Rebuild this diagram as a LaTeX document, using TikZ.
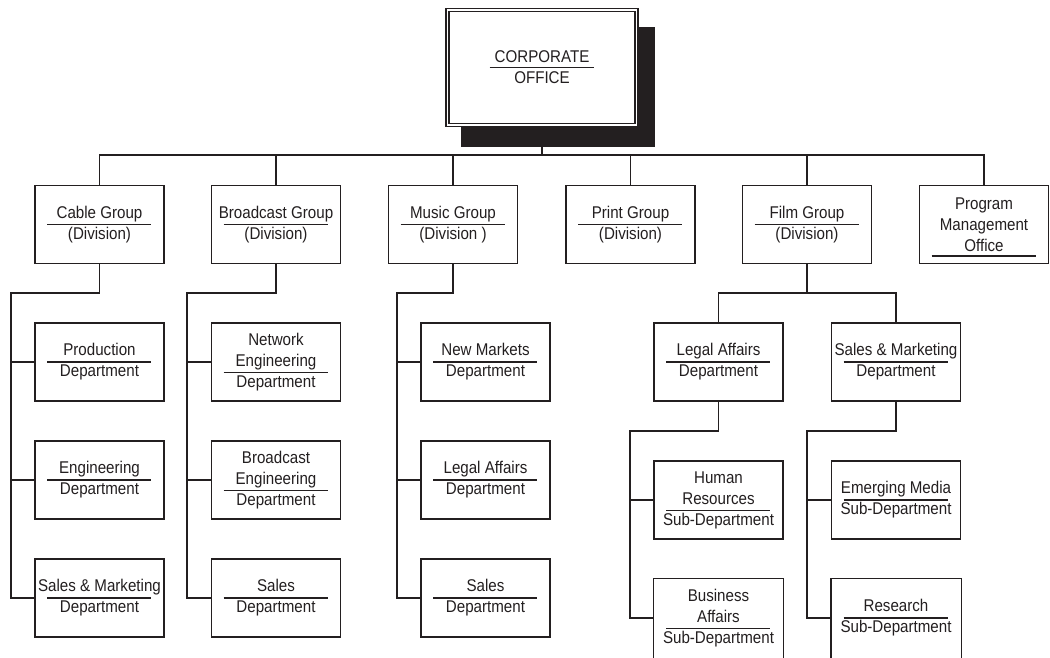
\documentclass[tikz,border=0pt]{standalone}
\usepackage{fontspec}
\setmainfont{Liberation Sans}[FakeStretch=0.89]
\definecolor{ink}{HTML}{231F20}
\begin{document}
\begin{tikzpicture}[x=1pt,y=-1pt,
  box/.style={draw=ink,line width=1.4pt,minimum width=129pt,minimum height=78pt,inner sep=0pt,align=center,
     font=\fontsize{17}{21}\selectfont,text=ink,fill=white},
  openbox/.style={box,draw=none},
  conn/.style={draw=ink,line width=1.4pt},
  rul/.style={draw=ink,line width=1.2pt}]
\clip (0,0) rectangle (1050,657);
\fill[white] (0,0) rectangle (1050,657);
\newcommand{\orgrule}[2]{\draw[rul] ([shift={(-52.5,#2)}]#1.center) -- ++(104,0);}
\newcommand{\openedge}[1]{\draw[conn] ([yshift=-8pt]#1.south west) -- (#1.north west) -- (#1.north east) -- ([yshift=-8pt]#1.south east);}
% corporate office
\node[fill=ink,minimum width=194pt,minimum height=120pt,inner sep=0pt] (corpshadow) at (558,87) {};
\node[box,double=white,double distance=1.6pt,line width=1.3pt,minimum width=189pt,minimum height=115pt] (corp) at (542,67.2) {CORPORATE\\OFFICE};
\orgrule{corp}{0}
% groups
\node[box] (cable) at (99.5,224.5) {Cable Group\\(Division)};
\node[box] (broad) at (276,224.5) {Broadcast Group\\(Division)};
\node[box] (music) at (453,224.5) {Music Group\\(Division )};
\node[box] (print) at (630.5,224.5) {Print Group\\(Division)};
\node[box] (film) at (807,224.5) {Film Group\\(Division)};
\node[box] (prog) at (984,224.5) {Program\\Management\\Office};
\orgrule{cable}{0}\orgrule{broad}{0}\orgrule{music}{0}\orgrule{print}{0}\orgrule{film}{0}\orgrule{prog}{31.5}
% cable departments
\node[box] (cp) at (99.5,362) {Production\\Department};
\node[box] (ce) at (99.5,480) {Engineering\\Department};
\node[box] (cs) at (99.5,598) {Sales \& Marketing\\Department};
\orgrule{cp}{0}\orgrule{ce}{0}\orgrule{cs}{0}
% broadcast departments
\node[box] (bn) at (276,362) {Network\\Engineering\\Department};
\node[box] (be) at (276,480) {Broadcast\\Engineering\\Department};
\node[box] (bs) at (276,598) {Sales\\Department};
\orgrule{bn}{10.5}\orgrule{be}{10.5}\orgrule{bs}{0}
% music departments
\node[box] (mn) at (485.5,362) {New Markets\\Department};
\node[box] (ml) at (485.5,480) {Legal Affairs\\Department};
\node[box] (ms) at (485.5,598) {Sales\\Department};
\orgrule{mn}{0}\orgrule{ml}{0}\orgrule{ms}{0}
% film departments
\node[box] (fl) at (718.5,362) {Legal Affairs\\Department};
\node[box] (fs) at (896,362) {Sales \& Marketing\\Department};
\orgrule{fl}{0}\orgrule{fs}{0}
\node[box] (fh) at (718.5,500) {Human\\Resources\\Sub-Department};
\node[openbox] (fb) at (718.5,618) {Business\\Affairs\\Sub-Department};
\node[box] (fe) at (896,500) {Emerging Media\\Sub-Department};
\node[openbox] (fr) at (896,618) {Research\\Sub-Department};
\openedge{fb}\openedge{fr}
\orgrule{fh}{10.5}\orgrule{fb}{10.5}\orgrule{fe}{0}\orgrule{fr}{0}
% connectors: top bus
\coordinate (bus) at (542,155);
\draw[conn] (corpshadow.south -| corp.south) -- (bus);
\draw[conn] (cable.north) |- (bus) -| (prog.north);
\draw[conn] (broad.north) -- (broad.north |- bus);
\draw[conn] (music.north) -- (music.north |- bus);
\draw[conn] (print.north) -- (print.north |- bus);
\draw[conn] (film.north) -- (film.north |- bus);
% cable rail
\coordinate (crail) at (11,293);
\draw[conn] (cable.south) |- (crail) |- (cs.west);
\draw[conn] (crail |- cp.west) -- (cp.west);
\draw[conn] (crail |- ce.west) -- (ce.west);
% broadcast rail
\coordinate (brail) at (187,293);
\draw[conn] (broad.south) |- (brail) |- (bs.west);
\draw[conn] (brail |- bn.west) -- (bn.west);
\draw[conn] (brail |- be.west) -- (be.west);
% music rail
\coordinate (mrail) at (397,293);
\draw[conn] (music.south) |- (mrail) |- (ms.west);
\draw[conn] (mrail |- mn.west) -- (mn.west);
\draw[conn] (mrail |- ml.west) -- (ml.west);
% film
\coordinate (fjunc) at (807,293);
\draw[conn] (film.south) -- (fjunc);
\draw[conn] (fl.north) |- (fjunc) -| (fs.north);
\coordinate (flrail) at (630,431);
\draw[conn] (fl.south) |- (flrail) |- (fb.west);
\draw[conn] (flrail |- fh.west) -- (fh.west);
\coordinate (fsrail) at (807,431);
\draw[conn] (fs.south) |- (fsrail) |- (fr.west);
\draw[conn] (fsrail |- fe.west) -- (fe.west);
\end{tikzpicture}
\end{document}
